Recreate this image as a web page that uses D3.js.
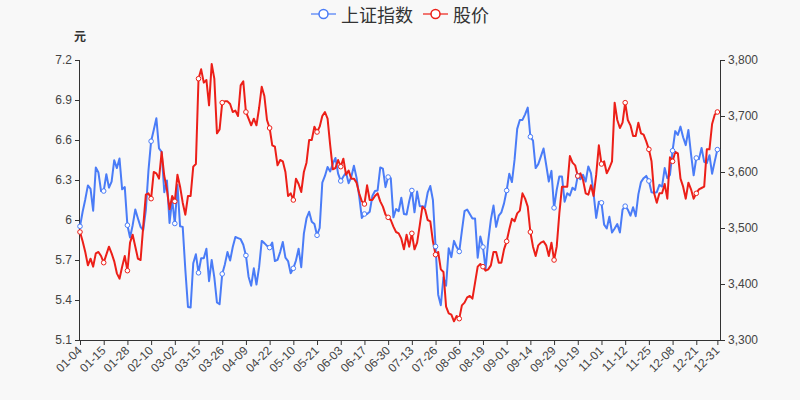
<!DOCTYPE html>
<html><head><meta charset="utf-8">
<script src="https://cdn.jsdelivr.net/npm/d3@7"></script>
<style>
html,body{margin:0;padding:0;background:#f8f8f8;}
svg{display:block;font-family:"Liberation Sans",Arial,"Noto Sans CJK SC",sans-serif;}
</style></head>
<body>
<svg id="chart" width="800" height="400"></svg>
<script>
const dates = ["01-04","01-05","01-06","01-07","01-08","01-11","01-12","01-13","01-14","01-15","01-18","01-19","01-20","01-21","01-22","01-25","01-26","01-27","01-28","01-29",
"02-01","02-02","02-03","02-04","02-05","02-08","02-09","02-10","02-18","02-19","02-22","02-23","02-24","02-25","02-26",
"03-01","03-02","03-03","03-04","03-05","03-08","03-09","03-10","03-11","03-12","03-15","03-16","03-17","03-18","03-19","03-22","03-23","03-24","03-25","03-26","03-29","03-30","03-31",
"04-01","04-02","04-06","04-07","04-08","04-09","04-12","04-13","04-14","04-15","04-16","04-19","04-20","04-21","04-22","04-23","04-26","04-27","04-28","04-29","04-30",
"05-06","05-07","05-10","05-11","05-12","05-13","05-14","05-17","05-18","05-19","05-20","05-21","05-24","05-25","05-26","05-27","05-28","05-31",
"06-01","06-02","06-03","06-04","06-07","06-08","06-09","06-10","06-11","06-15","06-16","06-17","06-18","06-21","06-22","06-23","06-24","06-25","06-28","06-29","06-30",
"07-01","07-02","07-05","07-06","07-07","07-08","07-09","07-12","07-13","07-14","07-15","07-16","07-19","07-20","07-21","07-22","07-23","07-26","07-27","07-28","07-29","07-30",
"08-02","08-03","08-04","08-05","08-06","08-09","08-10","08-11","08-12","08-13","08-16","08-17","08-18","08-19","08-20","08-23","08-24","08-25","08-26","08-27","08-30","08-31",
"09-01","09-02","09-03","09-06","09-07","09-08","09-09","09-10","09-13","09-14","09-15","09-16","09-17","09-22","09-23","09-24","09-27","09-28","09-29","09-30",
"10-08","10-11","10-12","10-13","10-14","10-15","10-18","10-19","10-20","10-21","10-22","10-25","10-26","10-27","10-28","10-29",
"11-01","11-02","11-03","11-04","11-05","11-08","11-09","11-10","11-11","11-12","11-15","11-16","11-17","11-18","11-19","11-22","11-23","11-24","11-25","11-26","11-29","11-30",
"12-01","12-02","12-03","12-06","12-07","12-08","12-09","12-10","12-13","12-14","12-15","12-16","12-17","12-20","12-21","12-22","12-23","12-24","12-27","12-28","12-29","12-30","12-31"];

// 上证指数 (right axis)
const indexValues = [3503,3529,3551,3576,3570,3531,3608,3599,3566,3566,3596,3572,3583,3621,3607,3624,3569,3573,3505,3483,
3505,3533,3517,3502,3496,3532,3603,3655,3675,3696,3642,3636,3564,3585,3509,
3551,3508,3577,3503,3502,3425,3359,3358,3437,3453,3420,3446,3446,3463,3405,3443,3412,3367,3364,3418,3435,3457,3442,
3466,3484,3482,3480,3470,3451,3413,3397,3428,3399,3430,3477,3473,3468,3465,3474,3441,3443,3457,3475,3447,
3441,3419,3428,3442,3463,3430,3490,3517,3529,3511,3507,3487,3500,3581,3593,3609,3601,3615,
3625,3597,3584,3592,3599,3580,3591,3611,3590,3557,3518,3525,3525,3529,3557,3566,3567,3608,3606,3573,3591,
3589,3519,3534,3530,3554,3525,3524,3548,3567,3528,3565,3539,3539,3537,3563,3575,3550,3467,3381,3362,3412,3397,
3464,3448,3477,3466,3458,3495,3530,3533,3525,3517,3517,3447,3485,3466,3427,3477,3515,3540,3502,3522,3528,3544,
3567,3597,3582,3622,3677,3693,3693,3703,3715,3663,3656,3607,3614,3628,3642,3613,3583,3602,3536,3568,
3592,3592,3547,3562,3558,3572,3568,3593,3587,3595,3583,3610,3598,3562,3518,3547,
3545,3506,3499,3520,3492,3499,3507,3492,3533,3539,3533,3522,3537,3521,3560,3582,3589,3593,3584,3564,3563,3564,
3577,3574,3607,3589,3595,3638,3673,3666,3681,3662,3648,3675,3632,3594,3625,3623,3643,3618,3616,3630,3597,3619,3640];

// 股价 (left axis, 元)
const priceValues = [5.91,5.84,5.76,5.66,5.71,5.65,5.75,5.76,5.73,5.68,5.74,5.80,5.75,5.69,5.60,5.56,5.65,5.73,5.62,5.83,
5.89,5.80,5.71,5.70,5.95,6.19,6.20,6.16,6.36,6.35,6.31,6.51,6.33,6.23,6.08,
6.18,6.14,6.34,6.25,6.13,6.04,6.18,6.18,6.40,6.42,7.06,7.13,7.03,7.05,6.86,7.17,7.06,6.65,6.68,6.88,6.89,6.89,6.87,
6.81,6.82,6.78,7.01,7.04,6.81,6.76,6.71,6.76,6.71,6.84,7.00,6.93,6.75,6.69,6.56,6.55,6.41,6.45,6.44,6.36,
6.18,6.20,6.15,6.31,6.27,6.21,6.36,6.43,6.60,6.60,6.70,6.66,6.70,6.78,6.81,6.76,6.56,6.38,
6.39,6.45,6.40,6.46,6.34,6.37,6.31,6.31,6.28,6.20,6.14,6.12,6.26,6.15,6.15,6.18,6.20,6.14,6.10,6.04,6.02,
6.00,5.95,5.91,5.90,5.86,5.78,5.89,5.80,5.90,5.78,5.83,5.96,6.10,6.08,6.00,5.99,5.84,5.74,5.76,5.63,5.61,5.35,
5.30,5.29,5.24,5.28,5.26,5.36,5.38,5.42,5.43,5.41,5.53,5.65,5.67,5.65,5.62,5.63,5.66,5.76,5.76,5.68,5.68,5.78,
5.84,5.93,6.01,5.99,6.05,6.07,6.20,6.16,6.10,5.91,5.80,5.73,5.81,5.83,5.84,5.81,5.73,5.83,5.70,5.80,
6.05,6.25,6.25,6.25,6.48,6.43,6.41,6.33,6.35,6.30,6.20,6.19,6.26,6.18,6.34,6.56,
6.42,6.44,6.35,6.39,6.44,6.88,6.75,6.69,6.73,6.88,6.75,6.71,6.63,6.63,6.73,6.65,6.64,6.59,6.53,6.44,6.20,6.13,
6.20,6.20,6.27,6.16,6.47,6.44,6.51,6.50,6.31,6.25,6.16,6.28,6.23,6.16,6.20,6.23,6.24,6.25,6.53,6.53,6.72,6.79,6.81];

const leftTicks = [5.1,5.4,5.7,6.0,6.3,6.6,6.9,7.2];
const rightTicks = [3300,3400,3500,3600,3700,3800];
const seriesNames = ["上证指数","股价"];
const seriesColors = ["#4a7cf7","#ec1f18"];

const svg = d3.select("#chart");
const L = 80, R = 720, T = 60, B = 340;

const x = d3.scaleLinear().domain([0, dates.length]).range([L, R]);
const yL = d3.scaleLinear().domain([5.1, 7.2]).range([B, T]);
const yR = d3.scaleLinear().domain([3300, 3800]).range([B, T]);

const textColor = "#444";
const axisColor = "#333";

// label indices
const labelIdx = d3.range(0, dates.length, 9);
if (labelIdx[labelIdx.length - 1] !== dates.length - 1) labelIdx.push(dates.length - 1);

// X axis
const xAxis = d3.axisBottom(x).tickValues(labelIdx).tickSize(5).tickFormat(i => dates[i]);
const gx = svg.append("g").attr("transform", `translate(0,${B})`).call(xAxis);
gx.select(".domain").attr("stroke", axisColor).attr("d", `M${L},0.5H${R}`);
gx.selectAll(".tick line").attr("stroke", axisColor);
gx.selectAll(".tick text")
  .attr("fill", textColor).attr("font-size", 12)
  .attr("text-anchor", "end")
  .attr("dy", null).attr("y", 0)
  .attr("transform", "translate(0,9) rotate(-45)")
  .attr("dominant-baseline", "middle");

// Left axis
const gl = svg.append("g").attr("transform", `translate(${L},0)`)
  .call(d3.axisLeft(yL).tickValues(leftTicks).tickSize(5).tickFormat(d => d3.format("")(+d.toFixed(1))));
gl.select(".domain").attr("stroke", axisColor).attr("d", `M-0.5,${T}V${B}`);
gl.selectAll(".tick line").attr("stroke", axisColor);
gl.selectAll(".tick text").attr("fill", textColor).attr("font-size", 12).attr("x", -8);

// Right axis
const gr = svg.append("g").attr("transform", `translate(${R},0)`)
  .call(d3.axisRight(yR).tickValues(rightTicks).tickSize(5).tickFormat(d3.format(",")));
gr.select(".domain").attr("stroke", axisColor).attr("d", `M0.5,${T}V${B}`);
gr.selectAll(".tick line").attr("stroke", axisColor);
gr.selectAll(".tick text").attr("fill", textColor).attr("font-size", 12).attr("x", 8);

// unit label
svg.append("text").attr("x", L).attr("y", 41).attr("text-anchor", "middle")
  .attr("font-size", 12).attr("font-weight", "bold").attr("fill", "#333").text("元");

// Lines
const lineIdx = d3.line().x((d, i) => x(i)).y(d => yR(d));
const linePrice = d3.line().x((d, i) => x(i)).y(d => yL(d));

svg.append("path").datum(indexValues).attr("d", lineIdx)
  .attr("fill", "none").attr("stroke", seriesColors[0]).attr("stroke-width", 2).attr("stroke-linejoin", "round");
svg.append("path").datum(priceValues).attr("d", linePrice)
  .attr("fill", "none").attr("stroke", seriesColors[1]).attr("stroke-width", 2).attr("stroke-linejoin", "round");

// markers
const markIdx = d3.range(0, dates.length, 9).concat([dates.length - 1]);
svg.append("g").selectAll("circle").data(markIdx).join("circle")
  .attr("cx", i => x(i)).attr("cy", i => yR(indexValues[i])).attr("r", 2.3)
  .attr("fill", "#fff").attr("stroke", seriesColors[0]).attr("stroke-width", 1);
svg.append("g").selectAll("circle").data(markIdx).join("circle")
  .attr("cx", i => x(i)).attr("cy", i => yL(priceValues[i])).attr("r", 2.3)
  .attr("fill", "#fff").attr("stroke", seriesColors[1]).attr("stroke-width", 1);

// Legend
const legendItems = [{name: seriesNames[0], color: seriesColors[0], x: 311},
                     {name: seriesNames[1], color: seriesColors[1], x: 423}];
const lg = svg.append("g");
legendItems.forEach(it => {
  const g = lg.append("g").attr("transform", `translate(${it.x},14)`);
  g.append("line").attr("x1", 0).attr("x2", 25).attr("y1", 0).attr("y2", 0)
    .attr("stroke", it.color).attr("stroke-width", 2).attr("stroke-opacity", 0.6);
  g.append("circle").attr("cx", 12.5).attr("cy", 0).attr("r", 4.5)
    .attr("fill", "#fff").attr("stroke", it.color).attr("stroke-width", 1.5);
  g.append("text").attr("x", 30).attr("y", 0).attr("dominant-baseline", "central")
    .attr("font-size", 18).attr("fill", "#333")
    .attr("font-family", "'Noto Sans CJK SC',sans-serif").text(it.name);
});
</script>
</body></html>
